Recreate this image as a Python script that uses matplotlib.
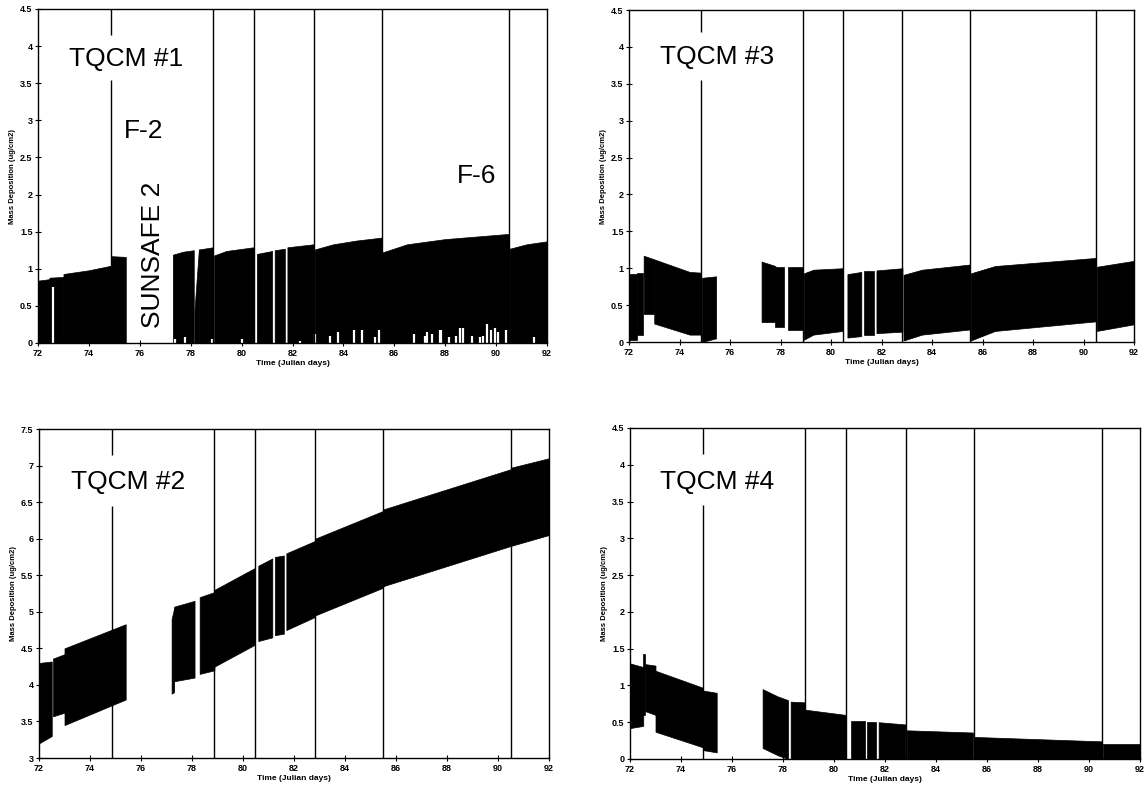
import matplotlib.pyplot as plt

plt.rcParams['font.family'] = ['Liberation Sans', 'DejaVu Sans']

days = [72, 74, 76, 78, 80, 82, 84, 86, 88, 90, 92]
events = [74.85, 78.88, 80.47, 82.83, 85.5, 90.5]

# TQCM #1 -- (x, top), band goes down to 0
tq1_segments = [
    ([72.0, 72.45], [0.84, 0.86]),
    ([72.45, 73.0], [0.88, 0.89]),
    ([73.0, 74.0, 74.85], [0.93, 0.98, 1.04]),
    ([74.88, 75.45], [1.17, 1.16]),
    ([77.3, 77.7, 78.12], [1.19, 1.23, 1.25]),
    ([78.15, 78.32], [0.45, 1.26]),
    ([78.32, 78.88], [1.26, 1.29]),
    ([78.92, 79.4, 80.47], [1.18, 1.24, 1.29]),
    ([80.6, 81.2], [1.2, 1.24]),
    ([81.3, 81.7], [1.25, 1.27]),
    ([81.8, 82.83], [1.29, 1.33]),
    ([82.87, 83.6, 84.5, 85.5], [1.26, 1.33, 1.38, 1.42]),
    ([85.53, 86.5, 88.0, 90.5], [1.22, 1.33, 1.4, 1.47]),
    ([90.53, 91.2, 92.0], [1.27, 1.33, 1.37]),
]
# small dropouts at the bottom of TQCM #1
tq1_notch_x = [72.58, 77.4, 77.76, 78.85, 80.0, 82.3, 82.88, 83.46, 83.8, 84.4, 84.75,
               85.26, 85.4, 86.77, 87.2, 87.28, 87.5, 87.78, 87.85, 88.14, 88.43, 88.57,
               88.7, 89.07, 89.36, 89.5, 89.65, 89.8, 89.94, 90.08, 90.37, 91.5]
tq1_notch_h = [0.76, 0.05, 0.08, 0.05, 0.05, 0.03, 0.12, 0.1, 0.15, 0.17, 0.17,
               0.08, 0.17, 0.12, 0.1, 0.15, 0.12, 0.17, 0.17, 0.08, 0.1, 0.2,
               0.2, 0.1, 0.08, 0.1, 0.25, 0.18, 0.2, 0.15, 0.17, 0.08]

# TQCM #3 -- (x, top, bottom)
tq3_segments = [
    ([72.0, 72.3], [0.92, 0.92], [0.03, 0.03]),
    ([72.3, 72.55], [0.93, 0.93], [0.1, 0.1]),
    ([72.58, 73.0], [1.17, 1.12], [0.38, 0.38]),
    ([73.0, 74.4, 74.85], [1.12, 0.95, 0.94], [0.25, 0.1, 0.1]),
    ([74.88, 75.45], [0.87, 0.89], [0.0, 0.05]),
    ([77.25, 77.8], [1.09, 1.03], [0.27, 0.27]),
    ([77.8, 78.12], [1.02, 1.02], [0.2, 0.2]),
    ([78.3, 78.88], [1.02, 1.02], [0.16, 0.16]),
    ([78.92, 79.3, 80.47], [0.93, 0.98, 1.0], [0.03, 0.1, 0.15]),
    ([80.65, 81.2], [0.92, 0.95], [0.06, 0.08]),
    ([81.3, 81.7], [0.96, 0.96], [0.1, 0.1]),
    ([81.8, 82.83], [0.97, 1.0], [0.12, 0.14]),
    ([82.87, 83.6, 85.5], [0.91, 0.98, 1.05], [0.02, 0.1, 0.17]),
    ([85.53, 86.5, 90.5], [0.93, 1.03, 1.14], [0.02, 0.15, 0.28]),
    ([90.53, 92.0], [1.02, 1.1], [0.15, 0.24]),
]

# TQCM #2
tq2_segments = [
    ([72.0, 72.5], [4.3, 4.32], [3.2, 3.3]),
    ([72.55, 73.0], [4.36, 4.42], [3.57, 3.62]),
    ([73.0, 75.4], [4.5, 4.83], [3.45, 3.8]),
    ([77.2, 77.3], [4.9, 5.05], [3.88, 3.9]),
    ([77.3, 78.1], [5.07, 5.15], [4.05, 4.1]),
    ([78.3, 78.88], [5.2, 5.27], [4.15, 4.2]),
    ([78.88, 80.47], [5.3, 5.6], [4.25, 4.55]),
    ([80.6, 81.15], [5.63, 5.73], [4.6, 4.65]),
    ([81.25, 81.6], [5.75, 5.77], [4.68, 4.7]),
    ([81.7, 82.83], [5.8, 5.97], [4.75, 4.93]),
    ([82.83, 85.5], [6.0, 6.38], [4.95, 5.33]),
    ([85.5, 90.5], [6.4, 6.95], [5.35, 5.9]),
    ([90.5, 92.0], [6.97, 7.1], [5.9, 6.05]),
]

# TQCM #4
tq4_segments = [
    ([72.0, 72.52], [1.3, 1.25], [0.42, 0.45]),
    ([72.52, 72.58], [1.43, 1.43], [0.6, 0.6]),
    ([72.6, 73.0], [1.29, 1.27], [0.65, 0.6]),
    ([73.0, 74.85], [1.2, 0.97], [0.37, 0.16]),
    ([74.88, 75.4], [0.93, 0.9], [0.12, 0.09]),
    ([77.2, 77.8, 78.2], [0.95, 0.85, 0.8], [0.15, 0.05, 0.0]),
    ([78.3, 78.85], [0.78, 0.77], [0.0, 0.0]),
    ([78.88, 80.45], [0.67, 0.6], [0.0, 0.0]),
    ([80.65, 81.2], [0.52, 0.52], [0.0, 0.0]),
    ([81.3, 81.65], [0.5, 0.5], [0.0, 0.0]),
    ([81.75, 82.8], [0.5, 0.47], [0.0, 0.0]),
    ([82.85, 85.45], [0.39, 0.36], [0.0, 0.0]),
    ([85.5, 90.5], [0.3, 0.24], [0.0, 0.0]),
    ([90.53, 92.0], [0.2, 0.2], [0.0, 0.0]),
]

fig = plt.figure(figsize=(11.46, 7.97), dpi=100)

boxes = [
    [38 / 1146, 1 - 343 / 797, 509 / 1146, 334 / 797],
    [629 / 1146, 1 - 342 / 797, 505 / 1146, 332 / 797],
    [39 / 1146, 1 - 758 / 797, 510 / 1146, 329 / 797],
    [630 / 1146, 1 - 759 / 797, 510 / 1146, 331 / 797],
]


def setup(ax, ymin, ymax):
    ax.set_xlim(72, 92)
    ax.set_ylim(ymin, ymax)
    ax.set_xticks(days)
    yt = [ymin + 0.5 * i for i in range(int(round((ymax - ymin) / 0.5)) + 1)]
    ax.set_yticks(yt)
    ax.set_yticklabels(['%g' % v for v in yt])
    ax.tick_params(direction='inout', length=4, width=0.8, labelsize=6.5, pad=2)
    for lab in ax.get_xticklabels() + ax.get_yticklabels():
        lab.set_fontweight('bold')
    for s in ax.spines.values():
        s.set_linewidth(1.0)
    ax.set_xlabel('Time (Julian days)', fontsize=6, fontweight='bold', labelpad=2)
    ax.set_ylabel('Mass Deposition (ug/cm2)', fontsize=5.5, fontweight='bold', labelpad=3)


def draw_events(ax, ymin, ymax, gap):
    for i, x in enumerate(events):
        if i == 0:
            ax.vlines(x, ymin, gap[0], color='black', lw=1.0)
            ax.vlines(x, gap[1], ymax, color='black', lw=1.0)
        else:
            ax.vlines(x, ymin, ymax, color='black', lw=1.0)


# TQCM #1
ax1 = fig.add_axes(boxes[0])
for xs, top in tq1_segments:
    ax1.fill_between(xs, [0] * len(xs), top, color='black', lw=0.5)
ax1.vlines(tq1_notch_x, 0, tq1_notch_h, color='white', lw=1.6)
draw_events(ax1, 0, 4.5, (3.55, 4.15))
setup(ax1, 0, 4.5)
ax1.text(73.2, 3.82, 'TQCM #1', fontsize=19, va='center')
ax1.text(75.39, 2.85, 'F-2', fontsize=19, va='center')
ax1.text(76.52, 1.19, 'SUNSAFE 2', fontsize=19, rotation=90, ha='center', va='center')
ax1.text(88.47, 2.25, 'F-6', fontsize=19, va='center')

# TQCM #3
ax2 = fig.add_axes(boxes[1])
for xs, top, bot in tq3_segments:
    ax2.fill_between(xs, bot, top, color='black', lw=0.5)
draw_events(ax2, 0, 4.5, (3.55, 4.2))
setup(ax2, 0, 4.5)
ax2.text(73.21, 3.86, 'TQCM #3', fontsize=19, va='center')

# TQCM #2
ax3 = fig.add_axes(boxes[2])
for xs, top, bot in tq2_segments:
    ax3.fill_between(xs, bot, top, color='black', lw=0.5)
draw_events(ax3, 3, 7.5, (6.45, 7.15))
setup(ax3, 3, 7.5)
ax3.text(73.26, 6.77, 'TQCM #2', fontsize=19, va='center')

# TQCM #4
ax4 = fig.add_axes(boxes[3])
for xs, top, bot in tq4_segments:
    ax4.fill_between(xs, bot, top, color='black', lw=0.5)
draw_events(ax4, 0, 4.5, (3.45, 4.15))
setup(ax4, 0, 4.5)
ax4.text(73.17, 3.77, 'TQCM #4', fontsize=19, va='center')

fig.savefig('out.png', dpi=100)
